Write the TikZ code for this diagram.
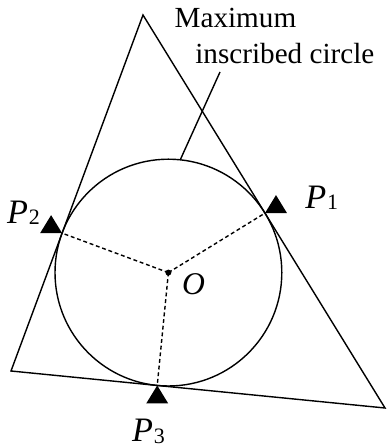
\documentclass[tikz,border=0pt]{standalone}
\usepackage{fontspec}
\setmainfont{Liberation Serif}
\usetikzlibrary{calc}

\tikzset{
  edge/.style={line width=0.8pt},
  radius line/.style={line width=0.8pt, dash pattern=on 2.2pt off 1.6pt},
  plabel/.style={anchor=base west, inner sep=0pt, font=\fontsize{19.5}{22}\selectfont},
}
\newcommand{\ptname}[1]{\textit{P}\kern0.5pt\raisebox{-0.8pt}{\fontsize{12.5}{14}\selectfont #1}}

\begin{document}
\begin{tikzpicture}
  \useasboundingbox (0,0) rectangle (7.74,8.96);
  % triangle corners and circle centre
  \coordinate (A) at (2.86,8.66);
  \coordinate (B) at (0.22,1.54);
  \coordinate (C) at (7.70,0.80);
  \coordinate (O) at (3.368,3.508);
  \draw[edge] (A) -- (B) -- (C) -- cycle;
  \draw[edge] (O) circle (2.268);
  % tangent points
  \coordinate (P1) at ($(A)!(O)!(C)$);
  \coordinate (P2) at ($(A)!(O)!(B)$);
  \coordinate (P3) at ($(B)!(O)!(C)$);
  \foreach \p in {P1,P2,P3}
    \draw[radius line] (O) -- (\p);
  \fill (O) circle (0.06);
  % markers
  \fill (P1) -- ++(0.44,0) -- ++(-0.22,0.36) -- cycle;
  \fill (P2) -- ++(-0.44,0) -- ++(0.22,0.36) -- cycle;
  \fill (P3) -- ++(0.22,-0.36) -- ++(-0.44,0) -- cycle;
  % labels
  \node[plabel] (p1) at ($(P1)+(0.80,0.10)$) {\ptname{1}};
  \node[plabel] (p2) at ($(P2)+(-1.108,0.198)$) {\ptname{2}};
  \node[plabel] (p3) at ($(P3)+(-0.51,-1.124)$) {\ptname{3}};
  \node[anchor=base west, inner sep=0pt, font=\fontsize{18}{20}\selectfont\itshape] (o) at ($(O)+(0.266,-0.448)$) {O};
  \node[anchor=base west, inner sep=0pt, align=left, font=\fontsize{16.6}{20.3}\selectfont] (title) at (3.486,7.694)
    {Maximum\\\hspace*{0.414cm}inscribed circle};
  \coordinate (rim) at ($(O)+(84:2.268)$);
  \coordinate (tip) at (4.40,7.52);
  \draw[edge] (rim) -- (tip);
\end{tikzpicture}
\end{document}
